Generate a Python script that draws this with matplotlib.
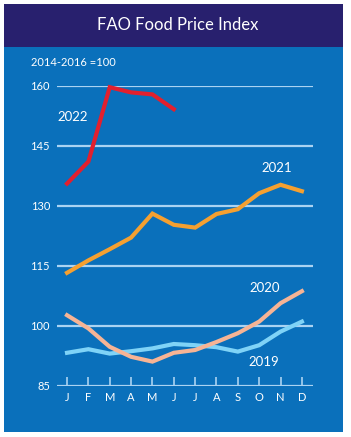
import matplotlib
matplotlib.use("Agg")
import matplotlib.pyplot as plt
from matplotlib.patches import Rectangle

months = ["J", "F", "M", "A", "M", "J", "J", "A", "S", "O", "N", "D"]
y2022 = [135.6, 141.1, 159.7, 158.4, 157.9, 154.2]
y2021 = [113.3, 116.4, 119.2, 122.1, 128.1, 125.3, 124.6, 128.0, 129.2, 133.2, 135.3, 133.7]
y2020 = [102.7, 99.4, 94.8, 92.3, 91.1, 93.3, 94.0, 96.0, 98.2, 101.1, 105.7, 108.7]
y2019 = [93.3, 94.2, 93.1, 93.7, 94.4, 95.5, 95.2, 94.7, 93.6, 95.2, 98.6, 101.1]
yticks = [85, 100, 115, 130, 145, 160]
title = "FAO Food Price Index"
subtitle = "2014-2016 =100"

W, H = 351, 437
fig = plt.figure(figsize=(W / 100, H / 100), dpi=100)
fig.patch.set_facecolor("white")
plt.rcParams['font.family'] = ['Lato', 'DejaVu Sans']

navy = "#28206e"
blue = "#0a70bb"
grid = "#aad3f2"

fig.add_artist(Rectangle((4 / W, 1 - 432 / H), 339 / W, 385 / H, transform=fig.transFigure,
                         facecolor=blue, edgecolor="none", zorder=0))
fig.add_artist(Rectangle((4 / W, 1 - 47 / H), 339 / W, 43 / H, transform=fig.transFigure,
                         facecolor=navy, edgecolor="none", zorder=0))
fig.text(178 / W, 1 - 25 / H, title, color="white", fontsize=12, ha="center", va="center")
fig.text(31 / W, 1 - 62 / H, subtitle, color="white", fontsize=8, ha="left", va="center")

ax = fig.add_axes([57 / W, 1 - 386 / H, 256 / W, 300 / H])
ax.set_facecolor("none")
ax.set_xlim(-0.47, 11.52)
ax.set_ylim(85, 160)
for s in ax.spines.values():
    s.set_visible(False)

for v in yticks:
    ax.axhline(v, color=grid, lw=1.6, zorder=1, solid_capstyle="butt")

x = list(range(12))
ax.plot(x, y2019, color="#7fd3f7", lw=3, zorder=3, clip_on=False, solid_joinstyle="miter")
ax.plot(x, y2020, color="#f6b495", lw=3, zorder=3, clip_on=False, solid_joinstyle="miter")
ax.plot(x, y2021, color="#f5a030", lw=3, zorder=3, clip_on=False, solid_joinstyle="miter")
ax.plot(x[:len(y2022)], y2022, color="#e2202e", lw=3, zorder=4, clip_on=False, solid_joinstyle="miter")

ax.text(0.28, 152.25, "2022", color="white", fontsize=9.5, ha="center", va="center")
ax.text(9.83, 139.5, "2021", color="white", fontsize=9.5, ha="center", va="center")
ax.text(9.27, 109.5, "2020", color="white", fontsize=9.5, ha="center", va="center")
ax.text(9.22, 91.0, "2019", color="white", fontsize=9.5, ha="center", va="center")

ax.set_yticks(yticks)
ax.set_yticklabels([str(v) for v in yticks])
ax.tick_params(axis="y", length=0, pad=5, labelsize=8, labelcolor="white")
ax.set_xticks(x)
ax.set_xticklabels(months)
ax.tick_params(axis="x", direction="in", length=6.5, width=1.2, color=grid, pad=4,
               labelsize=8, labelcolor="white")

fig.savefig("out.png", dpi=100, facecolor="white")
